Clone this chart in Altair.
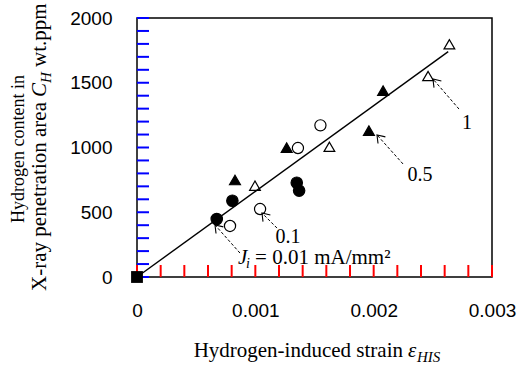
import altair as alt
import pandas as pd

# ---------------- data ----------------
series_names = ["0.01", "0.1", "0.5", "1"]
j001_x = [0.000674, 0.000806, 0.00135, 0.00137]
j001_y = [448, 589, 728, 667]
j01_x = [0.000786, 0.00104, 0.00136, 0.00155]
j01_y = [394, 525, 996, 1171]
j05_x = [0.000828, 0.001265, 0.00196, 0.00208]
j05_y = [749, 999, 1130, 1439]
j1_x = [0.000997, 0.001626, 0.00246, 0.00264]
j1_y = [705, 1006, 1552, 1797]
origin_x = [0.0]
origin_y = [0.0]
fit_x = [0.0, 0.00263]
fit_y = [0.0, 1740.0]

x_ticks = [round(i * 0.0002, 4) for i in range(16)]
y_ticks = [i * 100 for i in range(21)]
x_labels = [0.0, 0.001, 0.002, 0.003]
y_labels = [0, 500, 1000, 1500, 2000]

# annotation labels and arrows (tail -> tip), data units
ann_text = ["1", "0.5", "0.1"]
ann_x = [0.002789, 0.002392, 0.001276]
ann_y = [1189, 788, 309]
arrow_x = [0.002721, 0.002248, 0.001183, 0.000870]
arrow_y = [1297, 873, 378, 185]
arrow_x2 = [0.002501, 0.002028, 0.001056, 0.000659]
arrow_y2 = [1529, 1097, 494, 402]
j_label_x = [0.000854]
j_label_y = [98]

W, H = 355, 259
SERIF = "Liberation Serif"
SANS = "Liberation Sans"

rows = []
for name, xs, ys in zip(series_names, [j001_x, j01_x, j05_x, j1_x], [j001_y, j01_y, j05_y, j1_y]):
    for a, b in zip(xs, ys):
        rows.append({"x": a, "y": b, "s": name})
pts = pd.DataFrame(rows)

xscale = alt.Scale(domain=[0, 0.003], nice=False, zero=False)
yscale = alt.Scale(domain=[0, 2000], nice=False, zero=False)

xaxis = alt.Axis(values=x_labels, title=None, grid=False, domain=False, ticks=False,
                 labelPadding=24, labelFont=SANS, labelFontSize=19,
                 labelColor="black", labelOverlap=False, labelFlush=False,
                 labelExpr="datum.value == 0 ? '0' : format(datum.value, '.3f')")
yaxis = alt.Axis(values=y_labels, title=None, grid=False, domain=False, ticks=False,
                 labelPadding=25, labelFont=SANS, labelFontSize=19,
                 labelColor="black", labelOverlap=False, labelFlush=False,
                 labelExpr="format(datum.value, 'd')")

def X(f):
    return alt.X(f, scale=xscale, axis=xaxis)

def Y(f):
    return alt.Y(f, scale=yscale, axis=yaxis)

# inward ticks
xt = alt.Chart(pd.DataFrame({"v": x_ticks})).mark_rule(color="red", strokeWidth=2).encode(
    x=alt.X("v:Q", scale=xscale), y=alt.value(H), y2=alt.value(H - 12))
yt = alt.Chart(pd.DataFrame({"v": y_ticks})).mark_rule(color="blue", strokeWidth=2).encode(
    y=alt.Y("v:Q", scale=yscale), x=alt.value(0), x2=alt.value(12))

fit = alt.Chart(pd.DataFrame({"x": fit_x, "y": fit_y})).mark_line(
    color="black", strokeWidth=1.4).encode(x=X("x:Q"), y=Y("y:Q"))

arrows_df = pd.DataFrame({"x": arrow_x, "y": arrow_y, "x2": arrow_x2, "y2": arrow_y2})
arrows = alt.Chart(arrows_df).mark_rule(color="black", strokeWidth=1, strokeDash=[3, 2]).encode(
    x=X("x:Q"), y=Y("y:Q"), x2="x2:Q", y2="y2:Q")
heads = alt.Chart(arrows_df).mark_point(
    shape="M -0.7 1 L 0 0 L 0.7 1", filled=False, stroke="black", strokeWidth=1.1,
    size=200, angle=318, opacity=1).encode(x=X("x2:Q"), y=Y("y2:Q"))

points = alt.Chart(pts).mark_point(filled=True, stroke="black", strokeWidth=1.2, opacity=1).encode(
    x=X("x:Q"), y=Y("y:Q"),
    shape=alt.Shape("s:N", scale=alt.Scale(domain=series_names,
                    range=["circle", "circle", "triangle-up", "triangle-up"]), legend=None),
    fill=alt.Fill("s:N", scale=alt.Scale(domain=series_names,
                  range=["black", "transparent", "black", "transparent"]), legend=None),
    size=alt.Size("s:N", scale=alt.Scale(domain=series_names, range=[130, 115, 150, 140]), legend=None))

origin = alt.Chart(pd.DataFrame({"x": origin_x, "y": origin_y})).mark_point(
    shape="square", filled=True, color="black", size=140, opacity=1).encode(x=X("x:Q"), y=Y("y:Q"))

ann = alt.Chart(pd.DataFrame({"x": ann_x, "y": ann_y, "t": ann_text})).mark_text(
    font=SERIF, fontSize=20, color="black", align="center", baseline="middle").encode(
    x=X("x:Q"), y=Y("y:Q"), text="t:N")

jdf = pd.DataFrame({"x": j_label_x, "y": j_label_y})
def jtext(txt, dx, dy, size, italic):
    return alt.Chart(jdf).mark_text(
        font=SERIF, fontSize=size, fontStyle="italic" if italic else "normal", color="black",
        align="left", baseline="alphabetic", dx=dx, dy=dy, text=txt).encode(x=X("x:Q"), y=Y("y:Q"))
j_parts = [jtext("J", 0, 0, 21, True), jtext("i", 8, 4, 14, True),
           jtext("= 0.01 mA/mm\u00b2", 17, 0, 21, False)]

one = pd.DataFrame({"k": [0]})
def ptext(txt, x, y, size, italic=False, align="left", angle=0, dx=0, dy=0):
    kw = dict(font=SERIF, fontSize=size, fontStyle="italic" if italic else "normal",
              color="black", align=align, baseline="alphabetic", text=txt)
    if angle:
        kw["angle"] = angle
    if dx:
        kw["dx"] = dx
    if dy:
        kw["dy"] = dy
    return alt.Chart(one).mark_text(**kw).encode(x=alt.value(x), y=alt.value(y))

# x-axis title: Hydrogen-induced strain ε_HIS
XA, XB = 266, 339
xtitle = [ptext("Hydrogen-induced strain", XA, XB, 21, align="right"),
          ptext("\u03b5", XA, XB, 21, italic=True, dx=5),
          ptext("HIS", XA, XB, 15, italic=True, dx=14, dy=5)]

# y-axis title (rotated)
YA = 84
ytitle = [ptext("Hydrogen content in", -113, 131, 18, align="center", angle=270),
          ptext("X-ray penetration area", -91, YA, 21, align="right", angle=270),
          ptext("C", -91, YA, 21, italic=True, angle=270, dx=5),
          ptext("H", -91, YA, 15, italic=True, angle=270, dx=19, dy=5),
          ptext("wt.ppm", -91, YA, 21, angle=270, dx=35)]

chart = alt.layer(xt, yt, fit, arrows, heads, points, origin, ann, *j_parts, *xtitle, *ytitle).properties(
    width=W, height=H,
    autosize=alt.AutoSizeParams(type="none"),
    padding={"left": 137, "top": 18, "right": 26, "bottom": 88},
    background="white",
).configure_view(stroke="black", strokeWidth=1.5)

chart.save("out.html", embed_options={"renderer": "svg", "actions": False})
